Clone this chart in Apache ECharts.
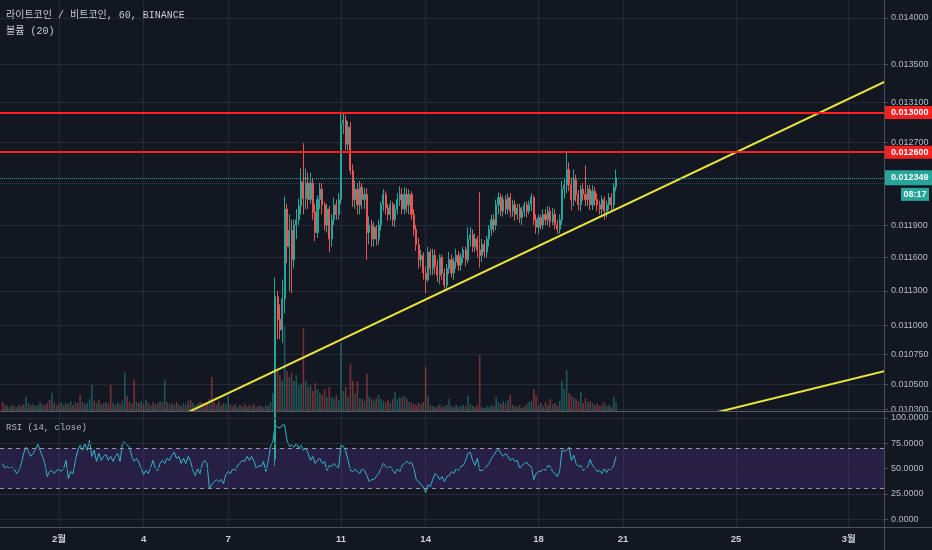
<!DOCTYPE html>
<html><head><meta charset="utf-8">
<script src="https://cdn.jsdelivr.net/npm/echarts@6/dist/echarts.min.js"></script>
<style>html,body{margin:0;padding:0;background:#131722;}#c{width:932px;height:550px;}</style>
</head><body><div id="c"></div>
<script>
// ---- data (days counted from Feb 1 = 1; bars are 2-hour steps) ----
const startDay = -1;
const stepDays = 2 / 24;
const candleStartIndex = 116;
// [open, close, low, high]
const candles = [
[0.00990,0.01125,0.00985,0.01142],[0.01125,0.01105,0.01088,0.01130],[0.01105,0.01096,0.01088,0.01118],[0.01096,0.01123,0.01085,0.01140],
[0.01123,0.01205,0.01110,0.01217],[0.01205,0.01170,0.01155,0.01210],[0.01170,0.01185,0.01130,0.01200],[0.01185,0.01158,0.01128,0.01195],
[0.01158,0.01190,0.01150,0.01195],[0.01190,0.01195,0.01177,0.01205],[0.01195,0.01208,0.01190,0.01215],[0.01208,0.01231,0.01200,0.01244],
[0.01231,0.01215,0.01200,0.01269],[0.01215,0.01230,0.01205,0.01244],[0.01230,0.01214,0.01205,0.01240],[0.01214,0.01230,0.01210,0.01240],
[0.01230,0.01202,0.01195,0.01235],[0.01202,0.01183,0.01175,0.01210],[0.01183,0.01214,0.01178,0.01218],[0.01214,0.01224,0.01205,0.01230],
[0.01224,0.01209,0.01200,0.01230],[0.01209,0.01190,0.01185,0.01212],[0.01190,0.01205,0.01183,0.01210],[0.01205,0.01177,0.01165,0.01208],
[0.01177,0.01195,0.01170,0.01200],[0.01195,0.01209,0.01190,0.01216],[0.01209,0.01200,0.01195,0.01214],[0.01200,0.01214,0.01195,0.01220],
[0.01214,0.01289,0.01210,0.01301],[0.01289,0.01292,0.01278,0.01300],[0.01292,0.01268,0.01262,0.01297],[0.01268,0.01285,0.01262,0.01291],
[0.01285,0.01242,0.01238,0.01290],[0.01242,0.01214,0.01207,0.01248],[0.01214,0.01224,0.01205,0.01232],[0.01224,0.01209,0.01200,0.01230],
[0.01209,0.01226,0.01200,0.01232],[0.01226,0.01214,0.01205,0.01230],[0.01214,0.01219,0.01205,0.01225],[0.01219,0.01183,0.01158,0.01225],
[0.01183,0.01190,0.01172,0.01198],[0.01190,0.01177,0.01170,0.01195],[0.01177,0.01188,0.01170,0.01193],[0.01188,0.01177,0.01171,0.01190],
[0.01177,0.01190,0.01172,0.01195],[0.01190,0.01209,0.01185,0.01212],[0.01209,0.01219,0.01203,0.01224],[0.01219,0.01206,0.01200,0.01222],
[0.01206,0.01200,0.01194,0.01210],[0.01200,0.01209,0.01195,0.01213],[0.01209,0.01195,0.01189,0.01212],[0.01195,0.01205,0.01188,0.01210],
[0.01205,0.01214,0.01200,0.01220],[0.01214,0.01219,0.01208,0.01227],[0.01219,0.01205,0.01200,0.01225],[0.01205,0.01219,0.01200,0.01226],
[0.01219,0.01209,0.01202,0.01225],[0.01209,0.01219,0.01200,0.01224],[0.01219,0.01200,0.01195,0.01222],[0.01200,0.01186,0.01180,0.01205],
[0.01186,0.01172,0.01166,0.01190],[0.01172,0.01158,0.01150,0.01178],[0.01158,0.01162,0.01152,0.01167],[0.01162,0.01146,0.01140,0.01165],
[0.01146,0.01140,0.01128,0.01152],[0.01140,0.01165,0.01138,0.01170],[0.01165,0.01150,0.01144,0.01168],[0.01150,0.01162,0.01144,0.01168],
[0.01162,0.01153,0.01145,0.01167],[0.01153,0.01144,0.01138,0.01158],[0.01144,0.01160,0.01136,0.01163],[0.01160,0.01146,0.01140,0.01163],
[0.01146,0.01135,0.01132,0.01150],[0.01135,0.01150,0.01130,0.01154],[0.01150,0.01158,0.01145,0.01165],[0.01158,0.01146,0.01142,0.01163],
[0.01146,0.01156,0.01140,0.01160],[0.01156,0.01162,0.01150,0.01168],[0.01162,0.01153,0.01148,0.01166],[0.01153,0.01160,0.01148,0.01164],
[0.01160,0.01167,0.01155,0.01170],[0.01167,0.01158,0.01152,0.01170],[0.01158,0.01177,0.01155,0.01188],[0.01177,0.01181,0.01170,0.01188],
[0.01181,0.01170,0.01165,0.01186],[0.01170,0.01177,0.01165,0.01182],[0.01177,0.01167,0.01160,0.01180],[0.01167,0.01162,0.01151,0.01221],
[0.01162,0.01172,0.01156,0.01177],[0.01172,0.01165,0.01160,0.01176],[0.01165,0.01177,0.01160,0.01180],[0.01177,0.01186,0.01170,0.01190],
[0.01186,0.01195,0.01180,0.01200],[0.01195,0.01190,0.01183,0.01200],[0.01190,0.01209,0.01185,0.01214],[0.01209,0.01216,0.01200,0.01221],
[0.01216,0.01203,0.01198,0.01220],[0.01203,0.01214,0.01198,0.01218],[0.01214,0.01205,0.01200,0.01218],[0.01205,0.01216,0.01200,0.01220],
[0.01216,0.01203,0.01197,0.01220],[0.01203,0.01209,0.01198,0.01214],[0.01209,0.01200,0.01194,0.01213],[0.01200,0.01206,0.01195,0.01210],
[0.01206,0.01197,0.01192,0.01210],[0.01197,0.01203,0.01190,0.01207],[0.01203,0.01209,0.01198,0.01212],[0.01209,0.01203,0.01197,0.01212],
[0.01203,0.01209,0.01200,0.01213],[0.01209,0.01216,0.01203,0.01220],[0.01216,0.01195,0.01190,0.01218],[0.01195,0.01188,0.01182,0.01200],
[0.01188,0.01197,0.01182,0.01200],[0.01197,0.01190,0.01186,0.01200],[0.01190,0.01200,0.01186,0.01205],[0.01200,0.01195,0.01190,0.01205],
[0.01195,0.01203,0.01190,0.01208],[0.01203,0.01193,0.01188,0.01207],[0.01193,0.01200,0.01190,0.01206],[0.01200,0.01190,0.01186,0.01205],
[0.01190,0.01186,0.01182,0.01195],[0.01186,0.01195,0.01182,0.01200],[0.01195,0.01224,0.01190,0.01232],[0.01224,0.01228,0.01215,0.01235],
[0.01228,0.01243,0.01220,0.01260],[0.01243,0.01228,0.01222,0.01250],[0.01228,0.01214,0.01204,0.01235],[0.01214,0.01233,0.01208,0.01243],
[0.01233,0.01219,0.01212,0.01238],[0.01219,0.01209,0.01204,0.01223],[0.01209,0.01224,0.01203,0.01228],[0.01224,0.01219,0.01213,0.01230],
[0.01219,0.01214,0.01208,0.01247],[0.01214,0.01224,0.01208,0.01228],[0.01224,0.01209,0.01204,0.01228],[0.01209,0.01222,0.01204,0.01228],
[0.01222,0.01214,0.01208,0.01226],[0.01214,0.01209,0.01203,0.01220],[0.01209,0.01205,0.01200,0.01213],[0.01205,0.01214,0.01200,0.01218],
[0.01214,0.01203,0.01195,0.01217],[0.01203,0.01209,0.01197,0.01213],[0.01209,0.01216,0.01204,0.01220],[0.01216,0.01209,0.01204,0.01220],
[0.01209,0.01226,0.01205,0.01230],[0.01226,0.012349,0.01222,0.01243]
];
const volumes = [
9,6,5,4,6,5,4,6,5,7, 14,8,6,7,5,6,9,7,6,8, 11,18,8,6,7,9,6,8,7,10, 6,9,8,16,9,7,8,12,26,10,
8,11,7,8,9,7,26,8,6,9, 7,10,38,15,9,7,31,9,8,10, 7,11,8,6,9,7,8,10,9,31, 9,7,8,6,9,7,5,8,6,10,
11,8,6,7,9,8,6,9,12,34, 9,7,10,6,8,7,15,6,5,7, 4,6,5,7,4,6,5,7,4,6, 5,4,6,5,9,18,
78,41,36,30,85,40,34,38,30,36, 25,28,83,30,24,26,20,28,22,18, 16,22,14,24,14,12,16,11,68,20,
24,14,47,30,18,30,13,12,10,37, 14,12,10,13,16,12,10,9,11,8, 12,19,12,14,13,15,12,9,8,7,
6,8,7,9,44,15,6,5,4,5, 7,4,5,6,12,5,4,6,4,5, 6,5,15,7,5,4,6,56,4,3, 5,4,6,5,14,9,7,10,8,11,
16,6,5,4,6,3,5,7,9,10, 22,16,6,8,5,9,6,12,7,8, 6,10,30,22,41,18,15,13,12,10, 19,8,13,9,10,8,6,7,5,6,
9,5,6,4,14,9
];
// direction of volume bars before the first visible candle (1 = up, 0 = down)
const earlyVolUp = [
0,0,1,0,1,0,1,0,1,0, 1,1,0,1,0,1,1,0,1,0, 0,1,0,1,0,1,0,1,0,1, 0,1,0,0,1,0,1,1,1,0,
1,0,1,0,1,0,0,1,0,1, 0,1,1,0,0,1,0,1,0,1, 0,1,0,1,0,1,0,1,0,1, 0,1,0,1,0,1,0,1,0,1,
0,1,0,1,0,1,0,0,1,0, 0,1,0,1,0,1,1,0,1,0, 1,0,1,0,1,0,1,0,1,0, 1,0,1,0,1,1
];
const rsi = [
55,50,52,50,51,49,45,48,55,65, 71,67,62,65,69,74,68,62,55,42, 47,48,45,48,49,47,50,58,40,47,
45,58,68,73,68,75,68,78,62,68, 57,65,58,62,64,58,62,57,62,65, 57,75,76,73,71,62,57,60,56,50,
44,48,45,51,58,50,48,55,58,55, 60,58,63,66,60,62,55,60,55,62, 57,48,43,50,45,55,58,55,30,34,
37,39,37,39,35,44,47,45,50,48, 53,55,58,57,62,58,62,57,50,53, 52,57,47,57,72,77,93,91,90,93,
93,78,72,73,71,75,70,73,68,70, 65,58,62,55,58,60,55,57,48,53, 52,55,52,51,73,72,67,58,48,47,
49,47,45,50,48,43,37,39,39,42, 45,50,55,52,50,52,48,45,50,47, 53,55,57,55,56,50,39,37,34,32,
26,34,32,39,45,43,
39,42,37,42,43,47,45,50,48,52, 53,58,65,66,58,53,60,48,48,50, 52,55,60,63,67,69,65,62,65,62,
58,60,57,58,50,53,55,56,53,52, 39,45,47,47,50,48,53,52,47,45, 42,47,68,67,68,71,58,63,55,52,
53,48,50,52,59,53,50,47,48,45, 50,46,50,49,53,62
];
const dateTicks = [1, 4, 7, 11, 14, 18, 21, 25, 29];
const dateLabels = ['2월', '4', '7', '11', '14', '18', '21', '25', '3월'];
const priceTicks = [0.014, 0.0135, 0.0131, 0.0127, 0.0123, 0.0119, 0.0116, 0.0113, 0.011, 0.01075, 0.0105, 0.0103];
const rsiTicks = [0, 25, 50, 75, 100];
const rsiBand = [30, 70];
const resistanceLevels = [0.013, 0.0126];
const lastPrice = 0.012349;
const countdown = '08:17';
const trendLines = [
  [[3, 0.01000], [32, 0.01356]],
  [[24, 0.010256], [32, 0.010712]]
];
const dayRange = [-1.09, 30.25];
const priceRange = [0.010284, 0.014199];
const rsiRange = [-7.9, 105.9];
const volumeMax = 150;
const titleMain = '라이트코인 / 비트코인, 60, BINANCE';
const titleVol = '볼륨 (20)';
const titleRsi = 'RSI (14, close)';

// ---- chart ----
const BG = '#131722', GRID = '#252a36', AXIS = '#4b4f5b', TXT = '#b8bbc4';
const UP = '#26a69a', DOWN = '#ef5350';
const NUM_FONT = "'Liberation Sans', 'Noto Sans CJK KR', Arial, sans-serif";
const MONO_FONT = "'Liberation Mono', 'Noto Sans CJK KR', monospace";
const L10 = Math.log10;

const dayOf = i => startDay + i * stepDays;
const candleData = candles.map((c, j) => [dayOf(candleStartIndex + j), c[0], c[1], c[2], c[3]]);
const isUp = i => {
  const j = i - candleStartIndex;
  if (j >= 0 && j < candles.length) return candles[j][1] >= candles[j][0];
  return earlyVolUp[i] === 1;
};
const volData = volumes.map((v, i) => ({
  value: [dayOf(i), v],
  itemStyle: { color: isUp(i) ? 'rgba(38,166,154,0.45)' : 'rgba(239,83,80,0.45)' }
}));
const rsiData = rsi.map((v, i) => [dayOf(i), v]);

const chart = echarts.init(document.getElementById('c'));
const xBase = (gi) => ({
  type: 'value', gridIndex: gi, min: dayRange[0], max: dayRange[1],
  axisLine: { show: false, onZero: false }, axisTick: { show: false, customValues: dateTicks },
  axisLabel: { show: false, customValues: dateTicks },
  splitLine: { show: true, lineStyle: { color: GRID, width: 1 } }
});
const x2 = xBase(2);
x2.axisLabel = {
  show: true, customValues: dateTicks, margin: 8, color: '#cdd0d8', fontSize: 9.5, fontWeight: 'bold', fontFamily: NUM_FONT,
  formatter: v => { const k = dateTicks.findIndex(d => Math.abs(d - v) < 1e-6); return k >= 0 ? dateLabels[k] : ''; }
};
const boxLabel = (bg, pad) => ({
  show: true, position: 'end', distance: 1, color: '#fff', backgroundColor: bg,
  padding: pad, fontSize: 9, fontWeight: 'bold', fontFamily: NUM_FONT
});

chart.setOption({
  backgroundColor: BG,
  animation: false,
  title: [
    { text: titleMain, left: 6, top: 10, padding: 0, textStyle: { color: '#c9ccd4', fontSize: 10, fontWeight: 'normal', fontFamily: MONO_FONT } },
    { text: titleVol, left: 6, top: 26, padding: 0, textStyle: { color: '#c9ccd4', fontSize: 10, fontWeight: 'normal', fontFamily: MONO_FONT } },
    { text: titleRsi, left: 6, top: 423, padding: 0, textStyle: { color: '#b2b5be', fontSize: 9, fontWeight: 'normal', fontFamily: MONO_FONT } }
  ],
  grid: [
    { left: 0, right: 48, top: 0, height: 411, outerBoundsMode: 'none' },
    { left: 0, right: 48, top: 411 - volumeMax, height: volumeMax, outerBoundsMode: 'none' },
    { left: 0, right: 48, top: 412, height: 115, outerBoundsMode: 'none' }
  ],
  xAxis: [xBase(0), Object.assign(xBase(1), { show: false }), x2],
  yAxis: [
    { type: 'log', gridIndex: 0, min: priceRange[0], max: priceRange[1], show: false, axisLine: { onZero: false } },
    {
      type: 'value', gridIndex: 0, position: 'right', min: L10(priceRange[0]), max: L10(priceRange[1]),
      axisLine: { show: false, onZero: false },
      axisTick: { show: true, length: 4, customValues: priceTicks.map(L10), lineStyle: { color: AXIS } },
      axisLabel: { customValues: priceTicks.map(L10), margin: 7, color: TXT, fontSize: 9, fontFamily: NUM_FONT,
        formatter: v => Math.pow(10, v).toFixed(6) },
      splitLine: { show: true, lineStyle: { color: GRID, width: 1 } }
    },
    { type: 'value', gridIndex: 1, min: 0, max: volumeMax, show: false, axisLine: { onZero: false } },
    {
      type: 'value', gridIndex: 2, position: 'right', min: rsiRange[0], max: rsiRange[1], z: 20,
      axisLine: { show: false, onZero: false },
      axisTick: { show: true, length: 4, customValues: rsiTicks, lineStyle: { color: AXIS } },
      axisLabel: { customValues: rsiTicks, margin: 7, color: TXT, fontSize: 9, fontFamily: NUM_FONT,
        formatter: v => v.toFixed(4) },
      splitLine: { show: true, lineStyle: { color: GRID, width: 1 } }
    }
  ],
  series: [
    {
      name: 'volume', type: 'bar', xAxisIndex: 1, yAxisIndex: 2, data: volData,
      barWidth: 1.6, z: 1, silent: true
    },
    {
      name: 'price', type: 'candlestick', xAxisIndex: 0, yAxisIndex: 0, data: candleData,
      encode: { x: 0, y: [1, 2, 3, 4] }, barWidth: 1.6, clip: true, z: 3, silent: true,
      itemStyle: { color: UP, color0: DOWN, borderColor: UP, borderColor0: DOWN, borderWidth: 1 }
    },
    ...trendLines.map((pts, k) => ({
      name: 'trend' + k, type: 'line', xAxisIndex: 0, yAxisIndex: 0, data: pts,
      symbol: 'none', clip: true, z: 4, silent: true,
      lineStyle: { color: '#ece53a', width: 2 }
    })),
    {
      name: 'levels', type: 'line', xAxisIndex: 0, yAxisIndex: 0,
      data: [[dayRange[0], lastPrice], [dayRange[1], lastPrice]],
      symbol: 'none', clip: false, z: 5, silent: true, lineStyle: { width: 0, opacity: 0 },
      markLine: {
        symbol: 'none', silent: true, animation: false, precision: 8,
        data: [
          ...resistanceLevels.map(v => ({
            yAxis: v, lineStyle: { color: '#ff2020', width: 2, type: 'solid' },
            label: Object.assign(boxLabel('#f41f1f', [2, 6, 2, 6]), { formatter: () => v.toFixed(6) })
          })),
          {
            yAxis: lastPrice, lineStyle: { color: UP, width: 1, type: 'dotted' },
            label: Object.assign(boxLabel(UP, [3, 6, 3, 6]), { formatter: () => lastPrice.toFixed(6) })
          }
        ]
      }
    },
    {
      name: 'RSI', type: 'line', xAxisIndex: 2, yAxisIndex: 3, data: rsiData,
      symbol: 'none', z: 3, silent: true, lineStyle: { color: '#33b6c9', width: 1 },
      markArea: { silent: true, itemStyle: { color: 'rgba(103,58,183,0.24)' }, data: [[{ yAxis: rsiBand[0] }, { yAxis: rsiBand[1] }]] },
      markLine: {
        symbol: 'none', silent: true, label: { show: false },
        lineStyle: { color: '#9598a2', width: 1, type: [4, 4] },
        data: rsiBand.map(v => ({ yAxis: v }))
      }
    }
  ]
});

const yLast = chart.convertToPixel({ yAxisIndex: 0 }, lastPrice);
chart.setOption({
  graphic: [
    { type: 'rect', z: 10, shape: { x: 885, y: 412, width: 47, height: 6 }, style: { fill: BG } },
    { type: 'line', z: 11, shape: { x1: 0, y1: 411.5, x2: 932, y2: 411.5 }, style: { stroke: '#585c67', lineWidth: 1 } },
    { type: 'line', z: 11, shape: { x1: 0, y1: 527.5, x2: 932, y2: 527.5 }, style: { stroke: '#4f535e', lineWidth: 1 } },
    { type: 'line', z: 11, shape: { x1: 884.5, y1: 0, x2: 884.5, y2: 550 }, style: { stroke: '#4b4f5a', lineWidth: 1 } },
    { type: 'rect', z: 15, shape: { x: 901, y: yLast + 10, width: 28, height: 13 }, style: { fill: UP } },
    { type: 'text', z: 16, x: 915, y: yLast + 16.5,
      style: { text: countdown, fill: '#fff', font: "bold 9px 'Liberation Sans', Arial", textAlign: 'center', textVerticalAlign: 'middle' } }
  ]
});
</script>
</body></html>
